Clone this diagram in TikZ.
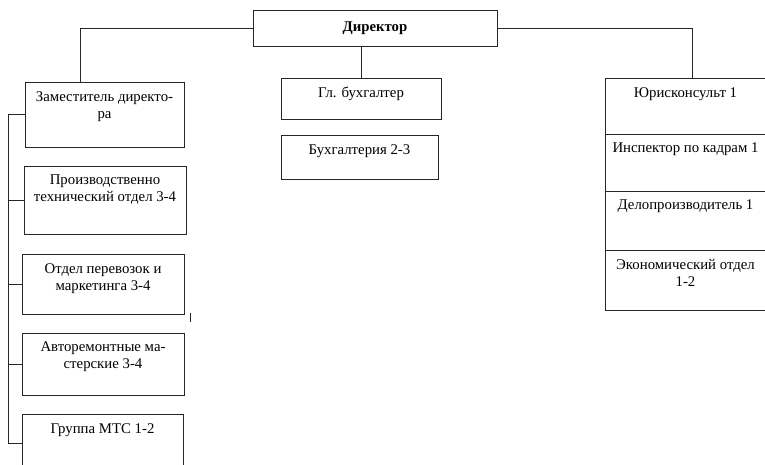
\documentclass[tikz,border=0pt]{standalone}
\usepackage{fontspec}
\setmainfont{Liberation Serif}
\begin{document}
\begin{tikzpicture}[x=1pt,y=-1pt,
  box/.style={draw=black!85, line width=0.8pt, inner sep=0pt, outer sep=0pt},
  txt/.style={anchor=north, align=center, font=\fontsize{14.8}{17}\selectfont, inner sep=0pt},
  conn/.style={draw=black!85, line width=0.8pt}]
\useasboundingbox (0,0) rectangle (765,464);
% Director
\node[box, minimum width=244, minimum height=36] (dir) at (375,28) {};
\node[txt, font=\fontsize{14.8}{17}\selectfont\bfseries] (dirt) at ([yshift=-12]dir.north) {Директор};
% Left column
\node[box, minimum width=159, minimum height=65] (zam) at (104.5,114.5) {};
\node[txt] (zamt) at ([yshift=-9]zam.north) {Заместитель директо-\\ра};
\node[box, minimum width=162, minimum height=68] (pt) at (105,200) {};
\node[txt] (ptt) at ([yshift=-9]pt.north) {Производственно\\технический отдел 3-4};
\node[box, minimum width=162, minimum height=60] (per) at (103,284) {};
\node[txt] (pert) at ([yshift=-9]per.north) {Отдел перевозок и\\маркетинга 3-4};
\node[box, minimum width=162, minimum height=62] (avt) at (103,364) {};
\node[txt] (avtt) at ([yshift=-9]avt.north) {Авторемонтные ма-\\стерские 3-4};
\node[box, minimum width=161, minimum height=58] (mts) at (102.5,443) {};
\node[txt] (mtst) at ([yshift=-9]mts.north) {Группа МТС 1-2};
% Center column
\node[box, minimum width=160, minimum height=41] (gl) at (361,98.5) {};
\node[txt] (glt) at ([yshift=-9]gl.north) {Гл. бухгалтер};
\node[box, minimum width=157, minimum height=44] (buh) at (359.5,157) {};
\node[txt] (buht) at ([yshift=-9]buh.north) {Бухгалтерия 2-3};
% Right column
\node[box, minimum width=161, minimum height=56] (yur) at (685.5,106) {};
\node[txt] (yurt) at ([yshift=-9]yur.north) {Юрисконсульт 1};
\node[box, minimum width=161, minimum height=57] (ins) at (685.5,162.5) {};
\node[txt] (inst) at ([yshift=-9]ins.north) {Инспектор по кадрам 1};
\node[box, minimum width=161, minimum height=59] (del) at (685.5,220.5) {};
\node[txt] (delt) at ([yshift=-9]del.north) {Делопроизводитель 1};
\node[box, minimum width=161, minimum height=60] (eco) at (685.5,280) {};
\node[txt] (ecot) at ([yshift=-9]eco.north) {Экономический отдел\\1-2};
% Connectors
\coordinate (busTop) at (8,114.5);
\coordinate (busBot) at (8,443);
\draw[conn] (dir.west) -| ([xshift=-24.5]zam.north);
\draw[conn] (dir.east) -| ([xshift=6.5]yur.north);
\draw[conn] (gl.north |- dir.south) -- (gl.north);
\draw[conn] (zam.west) -- (busTop) -- (busBot) -- (mts.west);
\draw[conn] (busTop |- pt.west) -- (pt.west);
\draw[conn] (busTop |- per.west) -- (per.west);
\draw[conn] (busTop |- avt.west) -- (avt.west);
\coordinate (tickA) at (190,313);
\coordinate (tickB) at (190,322);
\draw[conn, line width=0.6pt] (tickA) -- (tickB);
\end{tikzpicture}
\end{document}
